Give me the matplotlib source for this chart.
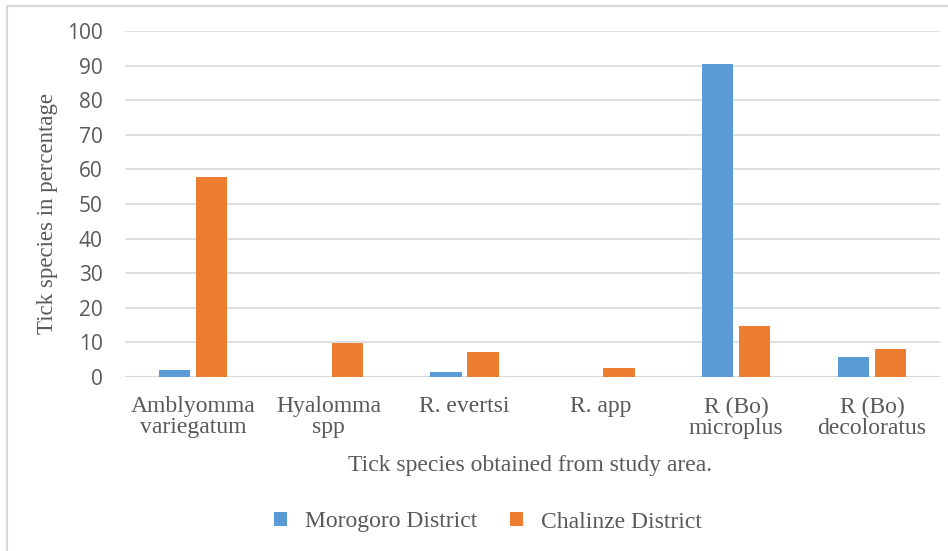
import matplotlib.pyplot as plt
import numpy as np
from matplotlib.patches import Rectangle

# Daten
categories = ['Amblyomma\nvariegatum', 'Hyalomma\nspp', 'R. evertsi',
              'R. app', 'R (Bo)\nmicroplus', 'R (Bo)\ndecoloratus']
morogoro = [2.0, 0.0, 1.4, 0.0, 90.5, 5.9]
chalinze = [57.8, 9.8, 7.2, 2.6, 14.7, 8.1]
yticks = [0, 10, 20, 30, 40, 50, 60, 70, 80, 90, 100]

blue = '#5b9bd5'
orange = '#ed7d31'
grey = '#595959'
serif = 'Liberation Serif'
sans = 'Open Sans'

W, H = 948, 551
fig = plt.figure(figsize=(W / 100, H / 100), dpi=100)
ax = fig.add_axes([125 / W, 1 - 377 / H, (940 - 125) / W, (377 - 31) / H])

# Rahmen oben/links
fig.patches.append(Rectangle((7 / W, -0.1), 1.2, 1 - 6 / H + 0.1,
                             transform=fig.transFigure, fill=False,
                             edgecolor='#d9d9d9', linewidth=1.5))

x = np.arange(len(categories))
bw = 0.23
off = 0.136
ax.bar(x - off, morogoro, bw, color=blue, label='Morogoro District', zorder=3)
ax.bar(x + off, chalinze, bw, color=orange, label='Chalinze District', zorder=3)

ax.set_xlim(-0.5, len(categories) - 0.5)
ax.set_ylim(0, 100)
ax.set_yticks(yticks)
ax.yaxis.grid(True, color='#d9d9d9', linewidth=1.2, zorder=0)
for s in ax.spines.values():
    s.set_visible(False)
ax.axhline(0, color='#d9d9d9', linewidth=1.5, zorder=2)
ax.tick_params(axis='both', length=0)
ax.tick_params(axis='y', pad=16)
ax.set_yticklabels([str(v) for v in yticks], fontsize=15, color=grey, family=sans)
ax.set_xticks(x)
ax.set_xticklabels(categories, fontsize=17, color=grey, family=serif,
                   linespacing=1.0)
ax.tick_params(axis='x', pad=14)

fig.text(48 / W, 1 - 213 / H, 'Tick species in percentage', rotation=90,
         ha='center', va='center', fontsize=16.5, color=grey, family=serif)
fig.text(530 / W, 1 - 466 / H, 'Tick species obtained from study area.',
         ha='center', va='center', fontsize=17, color=grey, family=serif)

leg = fig.legend(loc='center', bbox_to_anchor=(488 / W, 1 - 522 / H), ncol=2,
                 frameon=False, handlelength=0.55, handleheight=0.55,
                 handletextpad=0.75, columnspacing=1.4,
                 prop={'family': serif, 'size': 17})
for t in leg.get_texts():
    t.set_color(grey)

plt.savefig('out.png', dpi=100)
